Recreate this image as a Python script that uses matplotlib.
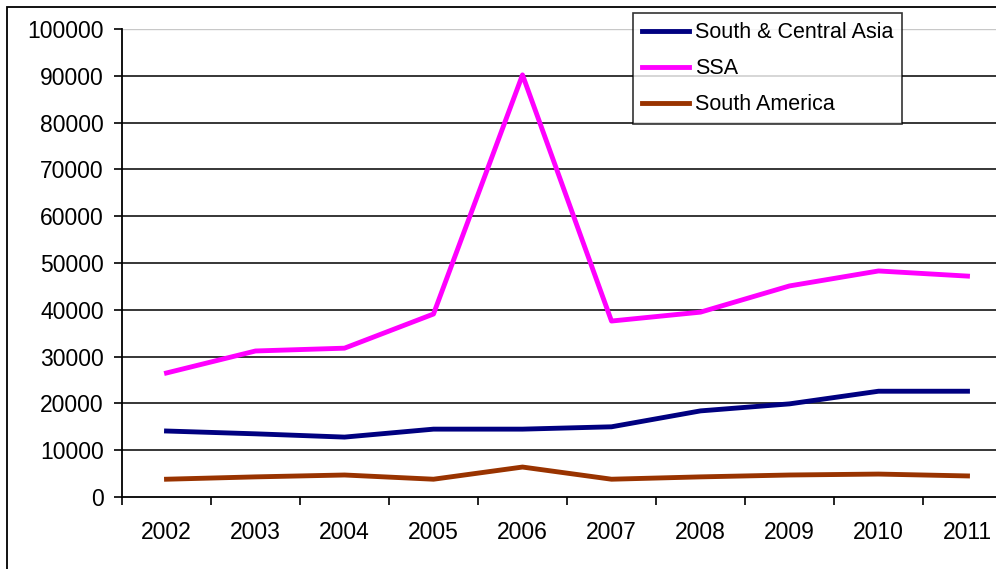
import matplotlib.pyplot as plt
import matplotlib.patches as patches

plt.rcParams['font.family'] = ['Liberation Sans', 'DejaVu Sans']

years = ["2002", "2003", "2004", "2005", "2006", "2007", "2008", "2009", "2010", "2011"]
south_central_asia = [14100, 13500, 12800, 14500, 14500, 15000, 18400, 19900, 22600, 22600]
ssa = [26500, 31200, 31800, 39100, 90200, 37600, 39500, 45100, 48300, 47200]
south_america = [3800, 4300, 4700, 3800, 6400, 3800, 4300, 4700, 4900, 4500]

W, H = 996, 569
fig = plt.figure(figsize=(W / 100, H / 100), dpi=100)

# outer chart border (runs off the right and bottom of the image)
fig.patches.append(patches.Rectangle((7 / W, -0.5), 2, 1.5 - 7 / H, transform=fig.transFigure,
                                     fill=False, edgecolor="black", linewidth=1.3))

ax = fig.add_axes([122 / W, 1 - 497 / H, 890 / W, 468 / H])
x = list(range(len(years)))
ax.plot(x, south_central_asia, color="#000080", linewidth=3.5, label="South & Central Asia")
ax.plot(x, ssa, color="#FF00FF", linewidth=3.5, label="SSA")
ax.plot(x, south_america, color="#993300", linewidth=3.5, label="South America")

ax.set_xlim(-0.5, len(years) - 0.5)
ax.set_ylim(0, 100000)
ax.set_yticks(range(0, 100001, 10000))
ax.set_xticks(x)
ax.set_xticklabels(years)
ax.set_xticks([i - 0.5 for i in range(len(years) + 1)], minor=True)
ax.tick_params(axis="x", which="major", length=0, pad=17, labelsize=16.5)
ax.tick_params(axis="x", which="minor", length=6, width=1.2, direction="out")
ax.tick_params(axis="y", length=6, width=1.2, direction="out", labelsize=16.5, pad=7)

for v in range(10000, 100000, 10000):
    ax.axhline(v, color="black", linewidth=1.1, zorder=0)
ax.axhline(100000, color="#c8c8c8", linewidth=1.0, zorder=0)

for s in ["top", "right"]:
    ax.spines[s].set_visible(False)
ax.spines["left"].set_linewidth(1.3)
ax.spines["bottom"].set_linewidth(1.3)

leg = ax.legend(loc="upper left", bbox_to_anchor=(633 / W, 1 - 13 / H), bbox_transform=fig.transFigure,
                frameon=True, fancybox=False, fontsize=15.5, handlelength=2.2, handletextpad=0.25,
                labelspacing=0.7, borderpad=0.42, borderaxespad=0)
leg.get_frame().set_edgecolor("black")
leg.get_frame().set_linewidth(1.2)

fig.savefig("out.png", dpi=100)
